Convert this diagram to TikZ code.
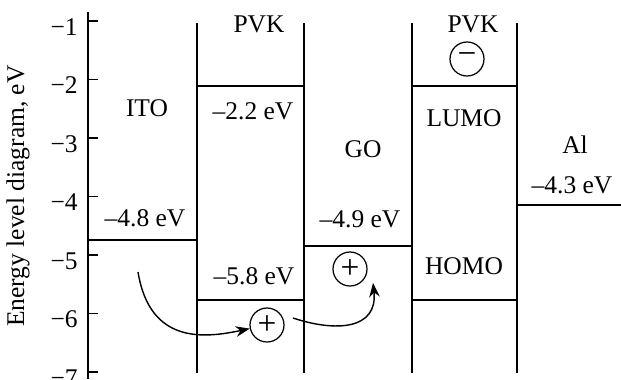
\documentclass[tikz,border=0pt]{standalone}
\usepackage{fontspec}
\setmainfont{Liberation Serif}
\usetikzlibrary{arrows.meta, positioning}

\begin{document}
\begin{tikzpicture}[x=0.02cm, y=-0.02cm, >={Stealth[length=8pt, width=6pt]},
        wall/.style={line width=1.3pt},
        lvl/.style={line width=0.7pt},
        lbl/.style={font=\fontsize{14.5}{17}\selectfont, inner sep=0pt},
        charge/.style={circle, draw, line width=0.7pt, minimum size=0.68cm, inner sep=0pt, font=\fontsize{19}{19}\selectfont},
        hop/.style={->, line width=0.8pt}]

    \useasboundingbox (0,0) rectangle (621,379);

    % axis with ticks
    \draw[wall] (88,12) -- (88,379);
    \foreach \v in {1,...,7} {
        \draw[line width=1pt] (88,{21+(\v-1)*58.5}) -- ++(10,0);
        \node[lbl, anchor=east] at (78,{27+(\v-1)*58.5}) {−\v};
    }
    \node (ylab) [lbl, rotate=90] at (18,196) {Energy level diagram, eV};

    % layer borders and levels
    \foreach \x in {197,304,412,517}
        \draw[wall] (\x,23) -- (\x,373);
    \draw[lvl] (88,240) -- (197,240);
    \draw[lvl] (197,86) -- (304,86);
    \draw[lvl] (197,300) -- (304,300);
    \draw[lvl] (304,246) -- (412,246);
    \draw[lvl] (412,86) -- (517,86);
    \draw[lvl] (412,300) -- (517,300);
    \draw[lvl] (517,205) -- (621,205);

    \node (ito) [lbl] at (147,108) {ITO};
    \node (itoE) [lbl] at (145,218) {–4.8 eV};
    \node (pvkA) [lbl] at (259,24) {PVK};
    \node (lumoA) [lbl] at (253,111) {–2.2 eV};
    \node (homoA) [lbl] at (254,276) {–5.8 eV};
    \node (go) [lbl] at (363,149) {GO};
    \node (goE) [lbl] at (360,219) {–4.9 eV};
    \node (pvkB) [lbl] at (473,24) {PVK};
    \node (lumoB) [lbl] at (464,118) {LUMO};
    \node (homoB) [lbl] at (464,266) {HOMO};
    \node (al) [lbl] at (575,145) {Al};
    \node (alE) [lbl] at (572,185) {–4.3 eV};

    % charges
    \node (minusB) [charge] at (467,59) {−};
    \node (plusA) [charge] at (267,325) {+};
    \node (plusB) [charge] at (350,269) {+};

    \coordinate (s1) at (138,272);
    \coordinate (s2) at (293,318);
    \coordinate (e2) at (373,283);
    \draw[hop] (s1) .. controls (150,345) and (205,338) .. (plusA);
    \draw[hop] (s2) .. controls (335,332) and (378,330) .. (e2);
\end{tikzpicture}
\end{document}
